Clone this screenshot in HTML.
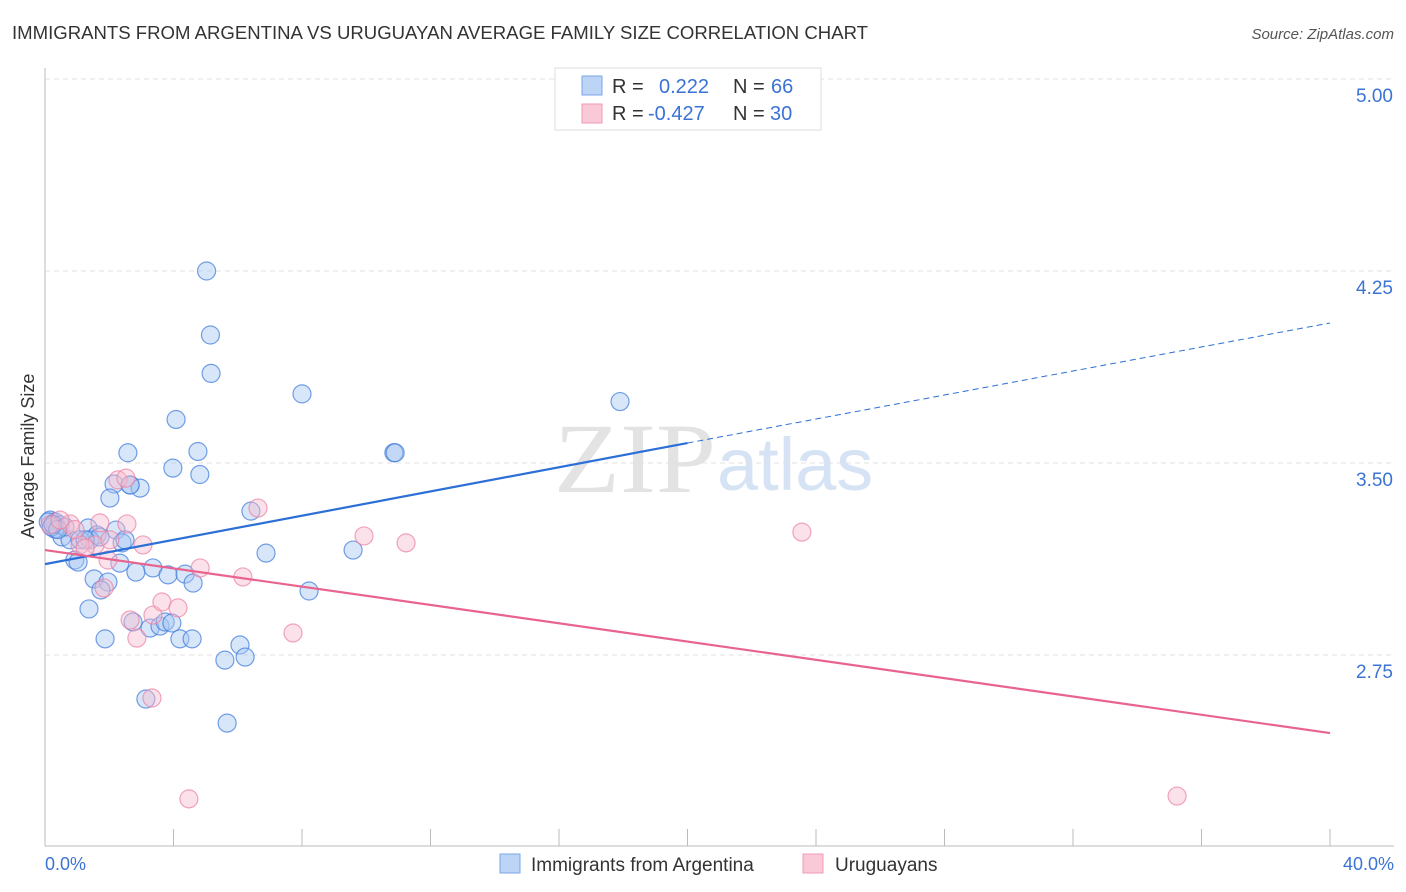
<!DOCTYPE html>
<html><head><meta charset="utf-8"><style>
body{margin:0;background:#fff;font-family:"Liberation Sans",sans-serif}
svg{display:block}
</style></head><body>
<svg id="chart" width="1406" height="892" xmlns="http://www.w3.org/2000/svg">
<text x="12" y="39" font-size="18" fill="#333" textLength="856" lengthAdjust="spacingAndGlyphs">IMMIGRANTS FROM ARGENTINA VS URUGUAYAN AVERAGE FAMILY SIZE CORRELATION CHART</text>
<text x="1394" y="39" font-size="15" fill="#555" font-style="italic" text-anchor="end">Source: ZipAtlas.com</text>
<text x="716" y="492" font-size="100" fill="#e3e3e3" text-anchor="end" textLength="162" lengthAdjust="spacingAndGlyphs" font-family="Liberation Serif,serif">ZIP</text>
<text x="717" y="490" font-size="74" fill="#d5e3f5">atlas</text>
<g id="grid"></g>
<line x1="45" y1="68" x2="45" y2="846" stroke="#bbb"/>
<line x1="45" y1="846" x2="1394" y2="846" stroke="#bbb"/>
<g id="xticks"></g>
<g id="marks"></g>
<text transform="translate(34,456) rotate(-90)" font-size="18" fill="#333" text-anchor="middle">Average Family Size</text>
<text x="45" y="870" font-size="18" fill="#3b73d4">0.0%</text>
<text x="1394" y="870" font-size="18" fill="#3b73d4" text-anchor="end">40.0%</text>
<g>
<rect x="555" y="68" width="266" height="62" fill="#fff" stroke="#ddd"/>
<rect x="582" y="76" width="20" height="19" fill="#bcd4f5" stroke="#7aa6e8"/>
<rect x="582" y="104" width="20" height="19" fill="#f9c9d8" stroke="#f09ab5"/>
<text x="612" y="93" font-size="20" fill="#333">R =</text><text x="659" y="93" font-size="20" fill="#3b73d4">0.222</text>
<text x="733" y="93" font-size="20" fill="#333">N =</text><text x="771" y="93" font-size="20" fill="#3b73d4">66</text>
<text x="612" y="120" font-size="20" fill="#333">R =</text><text x="648" y="120" font-size="20" fill="#3b73d4">-0.427</text>
<text x="733" y="120" font-size="20" fill="#333">N =</text><text x="770" y="120" font-size="20" fill="#3b73d4">30</text>
</g>
<g>
<rect x="500" y="854" width="20" height="19" fill="#bcd4f5" stroke="#7aa6e8"/>
<text x="531" y="871" font-size="19" fill="#333">Immigrants from Argentina</text>
<rect x="803" y="854" width="20" height="19" fill="#f9c9d8" stroke="#f09ab5"/>
<text x="835" y="871" font-size="19" fill="#333">Uruguayans</text>
</g>
</svg>
<script>
const yTicks=[2.75,3.5,4.25,5.0];
const yTickLabels=["2.75","3.50","4.25","5.00"];
const blueX=[5.03,5.15,5.17,8.0,4.08,2.58,4.76,10.86,10.9,17.9,3.98,4.82,2.15,2.65,2.96,2.02,6.41,0.16,0.31,0.47,1.34,2.21,1.62,0.53,0.78,1.09,1.4,1.71,2.4,6.88,9.59,0.93,1.03,2.33,2.83,3.36,3.83,4.36,4.61,1.53,1.96,1.74,8.22,1.37,2.74,3.27,3.58,3.74,3.95,4.2,4.58,1.87,6.07,6.23,5.6,3.14,5.67,0.31,0.62,1.25,2.65,2.49,0.1,0.2,0.25,0.4];
const blueY=[4.25,4.0,3.85,3.77,3.67,3.54,3.545,3.54,3.54,3.74,3.48,3.455,3.418,3.414,3.402,3.363,3.312,3.277,3.27,3.258,3.246,3.238,3.219,3.211,3.2,3.2,3.2,3.211,3.188,3.148,3.16,3.121,3.113,3.109,3.074,3.09,3.063,3.066,3.031,3.047,3.035,3.004,3.0,2.93,2.879,2.855,2.863,2.879,2.875,2.813,2.813,2.813,2.789,2.742,2.73,2.578,2.484,3.242,3.25,3.2,3.414,3.2,3.27,3.25,3.26,3.24];
const pinkX=[0.16,0.78,1.71,2.55,2.27,2.52,6.63,9.93,11.24,23.56,3.05,4.83,6.16,1.96,1.84,2.65,2.86,3.36,3.64,4.14,7.72,3.33,4.48,35.24,1.56,1.09,0.93,2.02,1.25,0.47];
const pinkY=[3.258,3.262,3.266,3.262,3.434,3.441,3.324,3.215,3.188,3.23,3.18,3.09,3.055,3.121,3.012,2.887,2.816,2.906,2.957,2.934,2.836,2.582,2.188,2.199,3.18,3.18,3.24,3.2,3.168,3.277];
const blueFit=[[0,3.105],[20,3.578],[40,4.047]];
const pinkFit=[[0,3.16],[40,2.445]];
const xTicks=[0,4,8,12,16,20,24,28,32,36,40];
const ns="http://www.w3.org/2000/svg";
const X=v=>45+v*32.125, Y=v=>79+(5-v)*256;
function mk(t,a,p){const e=document.createElementNS(ns,t);for(const k in a)e.setAttribute(k,a[k]);document.getElementById(p).appendChild(e);return e;}
yTicks.forEach((v,i)=>{
 const l=mk('line',{x1:45,x2:1394,y1:Y(v),y2:Y(v),stroke:'#e2e2e2','stroke-dasharray':'5,4'},'grid');
 
 
 const t=mk('text',{x:1393,y:Y(v)+23,'font-size':19,fill:'#3b73d4','text-anchor':'end'},'grid');
 t.textContent=yTickLabels[i];
 
 
});
xTicks.forEach(v=>{
 const l=mk('line',{x1:X(v),x2:X(v),y1:829,y2:846,stroke:'#bbb'},'xticks');
 
 
});
function dots(xs,ys,fill,stroke,name){xs.forEach((x,i)=>{
 const c=mk('circle',{cx:X(x),cy:Y(ys[i]),r:9,fill:fill,'fill-opacity':0.45,stroke:stroke,'stroke-opacity':0.7,'stroke-width':1.2},'marks');
 
 
});}
dots(blueX,blueY,'#a9c8f2','#3b78dc','point-argentina');
dots(pinkX,pinkY,'#f7bccf','#ec7fa2','point-uruguayans');
const b1=mk('line',{x1:X(blueFit[0][0]),y1:Y(blueFit[0][1]),x2:X(blueFit[1][0]),y2:Y(blueFit[1][1]),stroke:'#2c6fd6','stroke-width':2.2},'marks');


const b2=mk('line',{x1:X(blueFit[1][0]),y1:Y(blueFit[1][1]),x2:X(blueFit[2][0]),y2:Y(blueFit[2][1]),stroke:'#2c6fd6','stroke-width':1,'stroke-dasharray':'6,4'},'marks');


const p1=mk('line',{x1:X(pinkFit[0][0]),y1:Y(pinkFit[0][1]),x2:X(pinkFit[1][0]),y2:Y(pinkFit[1][1]),stroke:'#e8648f','stroke-width':2.2},'marks');


</script>
</body></html>
